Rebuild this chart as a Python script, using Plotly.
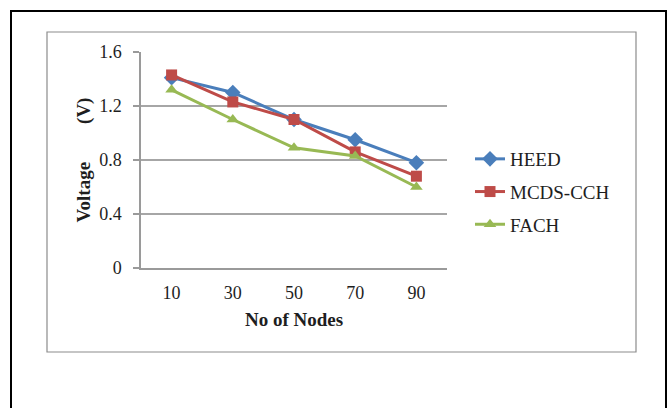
import plotly.graph_objects as go

# Data
nodes = ["10", "30", "50", "70", "90"]
heed = [1.41, 1.30, 1.10, 0.95, 0.78]
mcds_cch = [1.43, 1.23, 1.10, 0.86, 0.68]
fach = [1.32, 1.10, 0.89, 0.83, 0.60]
y_ticks = [0, 0.4, 0.8, 1.2, 1.6]
y_tick_text = ["0", "0.4", "0.8", "1.2", "1.6"]

W, H = 670, 408
L, R, T, B = 141, 447, 52, 268  # plot area in pixels


def px(x):
    return (x - L) / (R - L)


def py(y):
    return (B - y) / (B - T)


FONT = "Liberation Serif"
INK = "#1E1E1E"

fig = go.Figure()
series = [
    ("HEED", heed, "#4A7EBB", "diamond", 12),
    ("MCDS-CCH", mcds_cch, "#BE4B48", "square", 11),
    ("FACH", fach, "#98B954", "triangle-up", 11),
]
for name, vals, color, sym, size in series:
    fig.add_trace(go.Scatter(
        x=nodes, y=vals, name=name, mode="lines+markers",
        line=dict(color=color, width=3),
        marker=dict(symbol=sym, size=size, color=color),
        legendgroup=name,
    ))

fig.update_layout(
    width=W, height=H,
    margin=dict(l=L, r=W - R, t=T, b=H - B),
    paper_bgcolor="white", plot_bgcolor="white",
    font=dict(family=FONT, size=18, color=INK),
    showlegend=True,
    legend=dict(
        x=px(470), y=py(140), xanchor="left", yanchor="top",
        font=dict(family=FONT, size=19, color=INK),
        tracegroupgap=5, bgcolor="rgba(0,0,0,0)",
    ),
    xaxis=dict(
        type="category", range=[-0.5, 4.5],
        showgrid=False, showline=True, linecolor="#9A9A9A", linewidth=1.5,
        ticks="", ticklabelstandoff=8,
        tickfont=dict(family=FONT, size=18, color=INK),
        title=dict(text="<b>No of Nodes</b>", standoff=10,
                   font=dict(family=FONT, size=19, color=INK)),
    ),
    yaxis=dict(
        range=[0, 1.6], tickvals=y_ticks, ticktext=y_tick_text,
        showgrid=True, gridcolor="#A6A6A6", gridwidth=1.5,
        showline=True, linecolor="#9A9A9A", linewidth=1.5,
        ticks="outside", ticklen=6, tickcolor="#9A9A9A", tickwidth=1.5,
        ticklabelstandoff=8,
        zeroline=False,
        tickfont=dict(family=FONT, size=18, color=INK),
        title=dict(text="<b>Voltage        (V)</b>", standoff=4,
                   font=dict(family=FONT, size=19, color=INK)),
    ),
    shapes=[
        dict(type="rect", xref="paper", yref="paper",
             x0=px(11), x1=px(666), y0=py(11), y1=py(430),
             line=dict(color="black", width=2), layer="below"),
        dict(type="rect", xref="paper", yref="paper",
             x0=px(47), x1=px(636), y0=py(32), y1=py(352),
             line=dict(color="#8C8C8C", width=1.2), layer="below"),
    ],
)

fig.write_html("out.html")
